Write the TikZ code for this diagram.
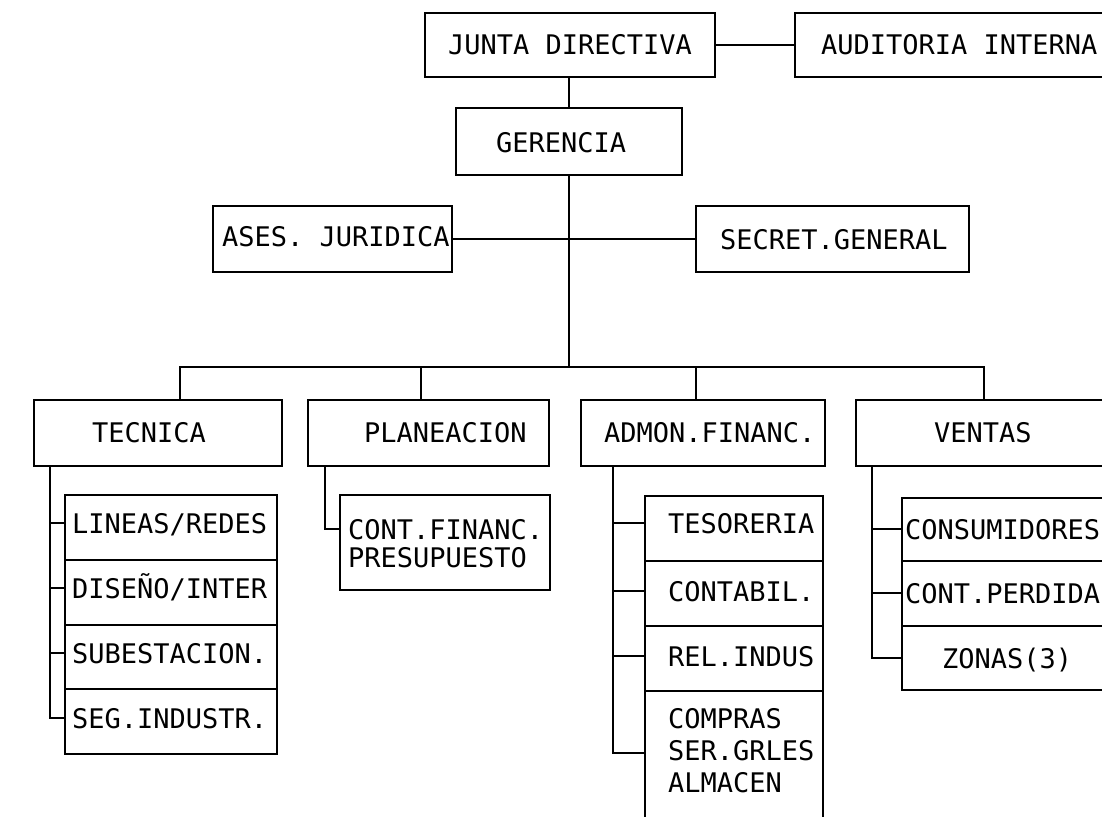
\documentclass[tikz,border=0pt]{standalone}
\usepackage{fontspec}
\newfontfamily\dotfont{DejaVu Sans Mono}
\begin{document}
\begin{tikzpicture}[x=1pt,y=-1pt]
\tikzset{
  box/.style={draw, line width=2.3pt, inner sep=0pt, outer sep=0pt},
  lbl/.style={font=\dotfont\fontsize{27}{32}\selectfont, inner sep=0pt, outer sep=0pt, anchor=west, text height=20pt, text depth=0pt},
  wire/.style={line width=2.3pt, line cap=rect},
}
\useasboundingbox (0,0) rectangle (1102,816);
\clip (0,0) rectangle (1102,816);
\fill[white] (0,0) rectangle (1102,816);

% top level
\node[box, minimum width=290pt, minimum height=64pt] (jd) at (570,45) {};
\node[box, minimum width=325pt, minimum height=64pt] (ai) at (957.5,45) {};
\node[box, minimum width=226pt, minimum height=67pt] (ger) at (569,141.5) {};
\node[box, minimum width=239pt, minimum height=66pt] (ases) at (332.5,239) {};
\node[box, minimum width=273pt, minimum height=66pt] (sec) at (832.5,239) {};

\node[lbl] (tjd) at (448,45) {JUNTA DIRECTIVA};
\node[lbl] (tai) at (821,45) {AUDITORIA INTERNA};
\node[lbl] (tger) at (496,142) {GERENCIA};
\node[lbl] (tases) at (222,236) {ASES. JURIDICA};
\node[lbl] (tsec) at (720,239) {SECRET.GENERAL};

% departments
\node[box, minimum width=248pt, minimum height=66pt] (tec) at (158,433) {};
\node[box, minimum width=241pt, minimum height=66pt] (pla) at (428.5,433) {};
\node[box, minimum width=244pt, minimum height=66pt] (adm) at (703,433) {};
\node[box, minimum width=264pt, minimum height=66pt] (ven) at (988,433) {};

\node[lbl] (ttec) at (92,432) {TECNICA};
\node[lbl] (tpla) at (364,432) {PLANEACION};
\node[lbl] (tadm) at (604,432) {ADMON.FINANC.};
\node[lbl] (tven) at (934,432) {VENTAS};

% TECNICA sub boxes
\node[box, minimum width=212pt, minimum height=65pt] (t1) at (171,527.5) {};
\node[box, minimum width=212pt, minimum height=65pt] (t2) at (171,592.5) {};
\node[box, minimum width=212pt, minimum height=64pt] (t3) at (171,657) {};
\node[box, minimum width=212pt, minimum height=65pt] (t4) at (171,721.5) {};
\node[lbl] (l1) at (72,523) {LINEAS/REDES};
\node[lbl] (l2) at (72,588) {DISEÑO/INTER};
\node[lbl] (l3) at (72,653) {SUBESTACION.};
\node[lbl] (l4) at (72,718) {SEG.INDUSTR.};

% PLANEACION sub box
\node[box, minimum width=210pt, minimum height=95pt] (p1) at (445,542.5) {};
\node[lbl] (m1) at (348,529) {CONT.FINANC.};
\node[lbl] (m2) at (348,557) {PRESUPUESTO};

% ADMON sub boxes
\node[box, minimum width=178pt, minimum height=65pt] (a1) at (734,528.5) {};
\node[box, minimum width=178pt, minimum height=65pt] (a2) at (734,593.5) {};
\node[box, minimum width=178pt, minimum height=65pt] (a3) at (734,658.5) {};
\node[box, minimum width=178pt, minimum height=139pt] (a4) at (734,760.5) {};
\node[lbl] (n1) at (668,523) {TESORERIA};
\node[lbl] (n2) at (668,591) {CONTABIL.};
\node[lbl] (n3) at (668,656) {REL.INDUS};
\node[lbl] (n4) at (668,718) {COMPRAS};
\node[lbl] (n5) at (668,750) {SER.GRLES};
\node[lbl] (n6) at (668,782) {ALMACEN};

% VENTAS sub boxes
\node[box, minimum width=218pt, minimum height=63pt] (v1) at (1011,529.5) {};
\node[box, minimum width=218pt, minimum height=65pt] (v2) at (1011,593.5) {};
\node[box, minimum width=218pt, minimum height=64pt] (v3) at (1011,658) {};
\node[lbl] (s1) at (905,529) {CONSUMIDORES};
\node[lbl] (s2) at (905,593) {CONT.PERDIDA};
\node[lbl] (s3) at (942,658) {ZONAS(3)};

% coordinates
\coordinate (bus) at (569,367);
\coordinate (dT) at (180,367);
\coordinate (dP) at (421,367);
\coordinate (dA) at (696,367);
\coordinate (dV) at (984,367);
\coordinate (sT) at (50,466);
\coordinate (sP) at (325,466);
\coordinate (sA) at (613,466);
\coordinate (sV) at (872,466);
\coordinate (a4stub) at (613,753);

% connectors top
\draw[wire] (jd.east) -- (ai.west);
\draw[wire] (jd.south -| ger.north) -- (ger.north);
\draw[wire] (ases.east) -- (sec.west);
\draw[wire] (ger.south) -- (bus);
\draw[wire] (dT) -- (dV);
\draw[wire] (dT) -- (tec.north -| dT);
\draw[wire] (dP) -- (pla.north -| dP);
\draw[wire] (dA) -- (adm.north -| dA);
\draw[wire] (dV) -- (ven.north -| dV);

% TECNICA
\draw[wire] (tec.south -| sT) -- (sT |- l4);
\draw[wire] (sT |- l1) -- (t1.west |- l1);
\draw[wire] (sT |- l2) -- (t2.west |- l2);
\draw[wire] (sT |- l3) -- (t3.west |- l3);
\draw[wire] (sT |- l4) -- (t4.west |- l4);

% PLANEACION
\draw[wire] (pla.south -| sP) |- (p1.west |- m1);

% ADMON
\draw[wire] (adm.south -| sA) -- (a4stub);
\draw[wire] (sA |- n1) -- (a1.west |- n1);
\draw[wire] (sA |- n2) -- (a2.west |- n2);
\draw[wire] (sA |- n3) -- (a3.west |- n3);
\draw[wire] (a4stub) -- (a4.west |- a4stub);

% VENTAS
\draw[wire] (ven.south -| sV) -- (sV |- s3);
\draw[wire] (sV |- s1) -- (v1.west |- s1);
\draw[wire] (sV |- s2) -- (v2.west |- s2);
\draw[wire] (sV |- s3) -- (v3.west |- s3);
\end{tikzpicture}
\end{document}
